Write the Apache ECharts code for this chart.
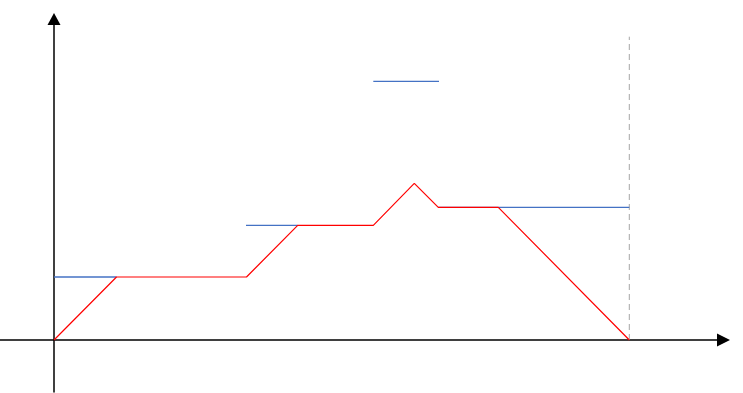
<!DOCTYPE html>
<html>
<head>
<meta charset="utf-8">
<script src="https://cdn.jsdelivr.net/npm/echarts@6/dist/echarts.min.js"></script>
<style>html,body{margin:0;padding:0;background:#fff;}#c{width:743px;height:393px;}</style>
</head>
<body>
<div id="c"></div>
<script>
// Red profile line [x, y]
const redX = [0, 6.25, 19.25, 24.37, 31.93, 36.03, 38.43, 44.43, 57.53];
const redY = [0, 6.3, 6.3, 11.47, 11.47, 15.67, 13.27, 13.27, 0];
// Blue horizontal level segments: [xStart, xEnd, y]
const blueSeg1 = [0, 6.25, 6.3];
const blueSeg2 = [19.2, 24.37, 11.47];
const blueSeg3 = [31.93, 38.5, 25.87];
const blueSeg4 = [38.43, 57.53, 13.27];
// Dashed vertical end marker
const endX = 57.53;
const endTop = 30.33;

const chart = echarts.init(document.getElementById('c'), null, {renderer: 'canvas'});
const seg = s => [[s[0], s[2]], [s[1], s[2]]];
const blueStyle = {color: '#4472C4', width: 1.3};
const blueSeries = [blueSeg1, blueSeg2, blueSeg3, blueSeg4].map(s => ({
  type: 'line', data: seg(s), symbol: 'none', lineStyle: blueStyle, silent: true, z: 2
}));
chart.setOption({
  animation: false,
  grid: {left: 0, right: 19.5, top: 19, bottom: 1},
  xAxis: {
    type: 'value', min: -5.4, max: 66.95,
    axisLine: {onZero: true, lineStyle: {color: '#000', width: 1.5}, symbol: ['none', 'triangle'], symbolSize: [13, 13]},
    axisTick: {show: false}, axisLabel: {show: false}, splitLine: {show: false}
  },
  yAxis: {
    type: 'value', min: -5.2, max: 32.1,
    axisLine: {show: true, onZero: true, lineStyle: {color: '#000', width: 1.5}, symbol: ['none', 'triangle'], symbolSize: [13, 12]},
    axisTick: {show: false}, axisLabel: {show: false}, splitLine: {show: false}
  },
  series: [
    ...blueSeries,
    {
      type: 'line', data: [[endX, 0], [endX, endTop]], symbol: 'none', silent: true, z: 1,
      lineStyle: {color: '#A6A6A6', width: 1, type: [6, 4]}
    },
    {
      type: 'line', data: redX.map((x, i) => [x, redY[i]]), symbol: 'none', silent: true, z: 3,
      lineStyle: {color: '#FF0000', width: 1.2}
    }
  ]
});
</script>
</body>
</html>
